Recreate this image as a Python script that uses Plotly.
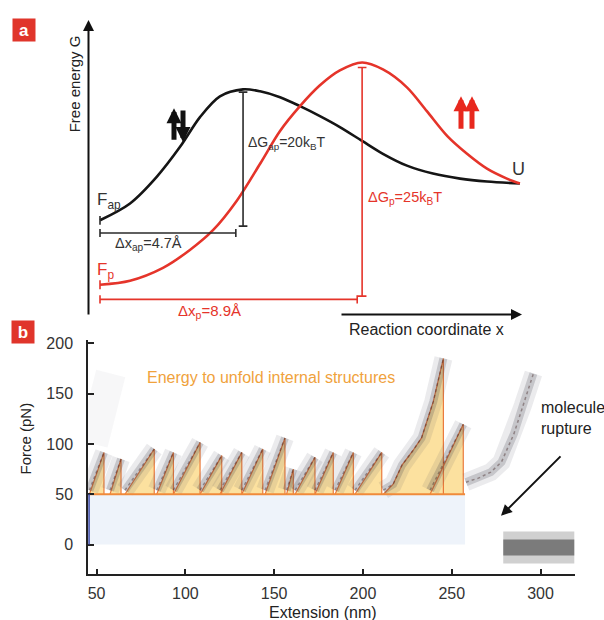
import plotly.graph_objects as go

# ---------------- Panel a: schematic free-energy landscapes ----------------
# reaction coordinate (Å) and free energy (schematic units, kBT-like)
x_ap = [0, 1.04, 1.97, 2.77, 3.46, 4.15, 4.95, 5.54, 6.23, 6.92, 7.61, 8.30,
        9.07, 9.79, 10.62, 11.52, 12.46, 13.39, 14.53]
g_ap = [8.59, 10.43, 13.37, 16.63, 19.89, 22.17, 22.93, 22.72, 22.07, 21.09,
        20.0, 18.80, 17.28, 15.87, 14.57, 13.70, 13.15, 12.83, 12.61]
x_p = [0, 1.04, 2.18, 3.11, 3.91, 4.74, 5.54, 6.23, 6.92, 7.61, 8.30, 9.07,
       9.79, 10.62, 11.31, 12.01, 12.70, 13.39, 14.08, 14.53]
g_p = [1.52, 1.96, 3.37, 5.33, 7.5, 10.76, 14.78, 18.37, 21.09, 23.37, 25.0,
       25.87, 25.11, 23.15, 20.54, 17.83, 15.87, 14.24, 13.15, 12.61]
dx_ap = 4.7     # Å
dx_p = 8.9      # Å
dG_ap = 20      # kBT
dG_p = 25       # kBT

# ---------------- Panel b: force-extension trace ----------------
saw_start = [46, 57.6, 66, 83.9, 93.3, 108.3, 119.5, 131.8, 144.9, 157, 161.8,
             173, 184.3, 195.5, 237.8]
saw_peak_ext = [54.2, 63.8, 82.5, 93.3, 108.3, 120.5, 131.8, 143.6, 156.1, 160.8,
                173, 183.3, 194.6, 210.6, 256.5]
saw_peak_force = [91.6, 85, 95, 91.6, 101.5, 88.4, 91.6, 95, 106, 75, 86.7, 91.6,
                  91.6, 91.6, 119.5]
big_ext = [211.5, 217, 222, 228, 233, 239.6, 245.3]
big_force = [50, 60, 79, 93, 106, 142, 185]
final_ext = [258, 265, 272, 278, 285, 290, 296]
final_force = [62, 66, 72, 82, 110, 138, 170]
early_ext = [48, 53, 58]
early_force = [100, 140, 170]
rupture_ext = [279, 319]
rupture_force = [-3, -3]
baseline_force = 50
x_ticks = [50, 100, 150, 200, 250, 300]
y_ticks = [0, 50, 100, 150, 200]

W, H = 604, 620
def px(v):
    return v / W
def py(v):
    return 1 - v / H

AP_C = '#151515'
P_C = '#e5342a'
FONT = 'Liberation Sans, Arial, sans-serif'

fig = go.Figure()

# ---- panel a curves
fig.add_trace(go.Scatter(x=x_ap, y=g_ap, mode='lines', xaxis='x', yaxis='y',
                         line=dict(color=AP_C, width=2.6, shape='spline', smoothing=0.9),
                         hoverinfo='skip'))
fig.add_trace(go.Scatter(x=x_p, y=g_p, mode='lines', xaxis='x', yaxis='y',
                         line=dict(color=P_C, width=2.6, shape='spline', smoothing=0.9),
                         hoverinfo='skip'))

def bracket_h(x0, x1, y, cap):
    return [x0, x1, None, x0, x0, None, x1, x1], [y, y, None, y - cap, y + cap, None, y - cap, y + cap]

def bracket_v(x, y0, y1, cap):
    return [x, x, None, x - cap, x + cap, None, x - cap, x + cap], [y0, y1, None, y0, y0, None, y1, y1]

ap_level = g_ap[0] - 1.4
ap_peak_x = x_ap[g_ap.index(max(g_ap))]
hx, hy = bracket_h(0, dx_ap, ap_level, 0.45)
vx, vy = bracket_v(ap_peak_x, ap_level + 0.75, max(g_ap) - 0.3, 0.15)
tx, ty = [0, 0], [g_ap[0] - 0.5, g_ap[0] + 0.45]
fig.add_trace(go.Scatter(x=hx + [None] + vx + [None] + tx, y=hy + [None] + vy + [None] + ty,
                         mode='lines', xaxis='x', yaxis='y', hoverinfo='skip',
                         line=dict(color='#2a2a2a', width=1.6)))

p_level = g_p[0] - 1.6
p_peak_x = x_p[g_p.index(max(g_p))]
hx, hy = bracket_h(0, dx_p, p_level, 0.45)
vx, vy = bracket_v(p_peak_x, p_level + 0.35, max(g_p) - 0.55, 0.15)
tx, ty = [0, 0], [g_p[0] - 0.5, g_p[0] + 0.5]
fig.add_trace(go.Scatter(x=hx + [None] + vx + [None] + tx, y=hy + [None] + vy + [None] + ty,
                         mode='lines', xaxis='x', yaxis='y', hoverinfo='skip',
                         line=dict(color=P_C, width=1.6)))

# ---- panel b
x_lo, x_hi = 45.2, 319.4
tri_x, tri_y = [], []
for s, e, f in zip(saw_start, saw_peak_ext, saw_peak_force):
    tri_x += [s, e, e, None]
    tri_y += [baseline_force, f, baseline_force, None]
tri_x += big_ext + [big_ext[-1], None]
tri_y += big_force + [baseline_force, None]

fig.add_shape(type='rect', xref='x2', yref='y2', x0=x_lo, x1=max(saw_peak_ext) + 1,
              y0=0, y1=baseline_force, fillcolor='#eef3fa', line=dict(width=0), layer='below')

fig.add_trace(go.Scatter(x=tri_x, y=tri_y, mode='lines', fill='toself', xaxis='x2', yaxis='y2',
                         fillcolor='rgba(249,200,80,0.55)', hoverinfo='skip',
                         line=dict(color='rgba(232,110,45,0.9)', width=1.2)))

# data cloud approximated as soft translucent bands along the measured trace
cx, cy = [], []
for s, e, f in zip(saw_start, saw_peak_ext, saw_peak_force):
    cx += [s, e, None]
    cy += [baseline_force + 4, f, None]
cx += big_ext + [None] + final_ext
cy += [v + 4 for v in big_force[:1]] + big_force[1:] + [None] + final_force
fig.add_trace(go.Scatter(x=early_ext, y=early_force, mode='lines', xaxis='x2', yaxis='y2',
                         hoverinfo='skip', line=dict(color='rgba(90,90,110,0.05)', width=30)))
fig.add_trace(go.Scatter(x=cx, y=cy, mode='lines', xaxis='x2', yaxis='y2', hoverinfo='skip',
                         line=dict(color='rgba(70,70,90,0.11)', width=18)))
fig.add_trace(go.Scatter(x=cx, y=cy, mode='lines', xaxis='x2', yaxis='y2', hoverinfo='skip',
                         line=dict(color='rgba(50,50,65,0.2)', width=8)))
fig.add_trace(go.Scatter(x=cx, y=cy, mode='lines', xaxis='x2', yaxis='y2', hoverinfo='skip',
                         line=dict(color='rgba(60,30,30,0.4)', width=1.5, dash='dot')))

fig.add_trace(go.Scatter(x=rupture_ext, y=rupture_force, mode='lines', xaxis='x2', yaxis='y2',
                         hoverinfo='skip', line=dict(color='rgba(40,40,40,0.22)', width=32)))
fig.add_trace(go.Scatter(x=rupture_ext, y=rupture_force, mode='lines', xaxis='x2', yaxis='y2',
                         hoverinfo='skip', line=dict(color='rgba(20,20,20,0.45)', width=16)))

fig.add_trace(go.Scatter(x=[x_lo, max(saw_peak_ext) + 1], y=[baseline_force, baseline_force],
                         mode='lines', xaxis='x2', yaxis='y2', hoverinfo='skip',
                         line=dict(color='#f08a3a', width=1.8)))
fig.add_shape(type='line', xref='x2', yref='y2', x0=x_lo + 0.6, x1=x_lo + 0.6, y0=0,
              y1=baseline_force, line=dict(color='#3b4aa8', width=1.5), layer='above')

ann = []
def text(t, x, y, size=15, color='#222', xanchor='left', angle=0, **kw):
    ann.append(dict(text=t, x=px(x), y=py(y), xref='paper', yref='paper', showarrow=False,
                    xanchor=xanchor, yanchor='middle', textangle=angle,
                    font=dict(family=FONT, size=size, color=color), **kw))

def arrow(x, y, ax, ay, color='#111', width=2, size=1.0):
    ann.append(dict(text='', x=px(x), y=py(y), xref='paper', yref='paper', ax=ax, ay=ay,
                    showarrow=True, arrowhead=2, arrowsize=size, arrowwidth=width,
                    arrowcolor=color))

# panel labels
for lab, xx, yy in (('a', 24, 25), ('b', 23, 330)):
    ann.append(dict(text='<b>%s</b>' % lab, x=px(xx), y=py(yy), xref='paper', yref='paper',
                    showarrow=False, xanchor='center', yanchor='middle', width=20, height=20,
                    bgcolor='#e0352b', font=dict(family=FONT, size=17, color='white')))

# panel a
arrow(88.5, 15, 0, 296, width=2, size=1.1)
arrow(522, 312, -182, 0, width=2, size=1.1)
text('Free energy G', 63.5, 80, angle=-90)
text('Reaction coordinate x', 347, 327, size=16)
text('F<sub>ap</sub>', 95, 198, size=17, color='#333')
text('F<sub>p</sub>', 95, 268, size=17, color=P_C)
text('U', 518, 165, size=18, color='#333', xanchor='center')
text('ΔG<sub>ap</sub>=%dk<sub>B</sub>T' % dG_ap, 246, 139, size=14, color='#333')
text('Δx<sub>ap</sub>=%.1fÅ' % dx_ap, 113, 241, size=14.5, color='#333')
text('ΔG<sub>p</sub>=%dk<sub>B</sub>T' % dG_p, 366, 195, size=14.5, color=P_C)
text('Δx<sub>p</sub>=%.1fÅ' % dx_p, 176, 309, size=15, color=P_C)
arrow(174, 104, 0, 33, width=5, size=0.6)
arrow(183, 138, 0, -33, width=5, size=0.6)
arrow(461, 92, 0, 34, color='#e8281e', width=5, size=0.6)
arrow(472, 92, 0, 34, color='#e8281e', width=5, size=0.6)

# panel b
text('Energy to unfold internal structures', 271, 376, size=16, color='#f0a23c', xanchor='center')
text('molecule<br>rupture', 539, 416, size=16, color='#222', align='left')
arrow(501, 515, 61, -61, width=2, size=1.1)
text('Force (pN)', 25, 437, angle=-90, xanchor='center')
text('Extension (nm)', 323, 612, size=16, xanchor='center')

axis_common = dict(showline=True, linecolor='#222', linewidth=1.5, ticks='inside', ticklen=6,
                   tickwidth=1.5, tickcolor='#222', showgrid=False, zeroline=False,
                   tickfont=dict(family=FONT, size=16, color='#333'))

fig.update_layout(
    width=W, height=H, margin=dict(l=0, r=0, t=0, b=0),
    paper_bgcolor='white', plot_bgcolor='rgba(0,0,0,0)', showlegend=False,
    xaxis=dict(domain=[px(80), px(540)], range=[-0.692, 15.225], visible=False, anchor='y'),
    yaxis=dict(domain=[py(335), py(10)], range=[-4.239, 31.087], visible=False, anchor='x'),
    xaxis2=dict(domain=[px(88), px(575)], range=[x_lo, x_hi], anchor='y2',
                tickvals=x_ticks, ticklabelstandoff=4, **axis_common),
    yaxis2=dict(domain=[py(574), py(338)], range=[-29.6, 203], anchor='x2',
                tickvals=y_ticks, ticklabelstandoff=10, **axis_common),
    annotations=ann,
)

post = ("var gd=document.getElementById('{plot_id}');"
        "document.body.style.margin='0px';document.body.style.overflow='hidden';"
        "gd.style.position='fixed';gd.style.left='0px';gd.style.top='0px';")
fig.write_html('out.html', post_script=post, config={'displayModeBar': False})
